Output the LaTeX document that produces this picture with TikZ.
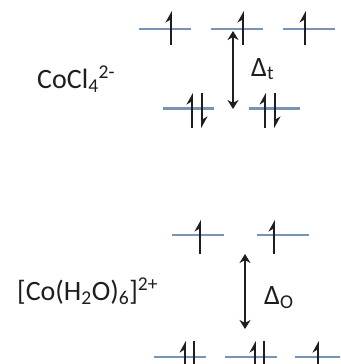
\documentclass[tikz,border=0pt]{standalone}
\usepackage{fontspec}
\setmainfont{Carlito}
\usetikzlibrary{arrows.meta}
\definecolor{levelblue}{HTML}{7893B3}
\definecolor{ink}{HTML}{1E1E1E}

\begin{document}
\begin{tikzpicture}[x=1pt,y=-1pt,
  level/.style={levelblue,line width=2.2pt},
  spin/.style={ink,line width=1.8pt,-{Stealth[left,length=10pt,width=11pt]}},
  gap/.style={ink,line width=2.4pt,{Stealth[length=9pt,width=11pt]}-{Stealth[length=9pt,width=11pt]}},
  lab/.style={ink,font=\fontsize{28}{28}\selectfont,inner sep=0pt,anchor=base west}
]
  \useasboundingbox (0,0) rectangle (340,364);
  \clip (0,0) rectangle (340,364);

  % tetrahedral complex
  \node[lab] (tet) at (37,88) {CoCl\textsubscript{4}\textsuperscript{2-}};
  \foreach \x in {139,211,283} \draw[level] (\x,28.7) -- ++(52,0);
  \foreach \x in {171,243,305} \draw[spin] (\x,45) -- (\x,11);
  \foreach \x in {163,249} \draw[level] (\x,108.5) -- ++(51,0);
  \foreach \x in {192,265} {
    \draw[spin] (\x,128) -- (\x,93);
    \draw[spin] (\x+10,93) -- (\x+10,128);
  }
  \coordinate (tettop) at (233,31);
  \coordinate (tetbot) at (233,109);
  \draw[gap] (tettop) -- (tetbot);
  \node[lab] (dt) at (251,76) {Δ\textsubscript{t}};

  % octahedral complex
  \node[lab] (oct) at (17,300) {[Co(H\textsubscript{2}O)\textsubscript{6}]\textsuperscript{2+}};
  \foreach \x in {172,257} \draw[level] (\x,235) -- ++(52,0);
  \foreach \x in {200,274} \draw[spin] (\x,254) -- (\x,220);
  \foreach \x in {154,225,295} \draw[level] (\x,357) -- ++(52,0);
  \foreach \x in {185,255} {
    \draw[spin] (\x,376) -- (\x,341);
    \draw[spin] (\x+9,341) -- (\x+9,376);
  }
  \draw[spin] (318,376) -- (318,341);
  \coordinate (octtop) at (245,254);
  \coordinate (octbot) at (245,329);
  \draw[gap] (octtop) -- (octbot);
  \node[lab] (do) at (264,304) {Δ\textsubscript{O}};
\end{tikzpicture}
\end{document}
